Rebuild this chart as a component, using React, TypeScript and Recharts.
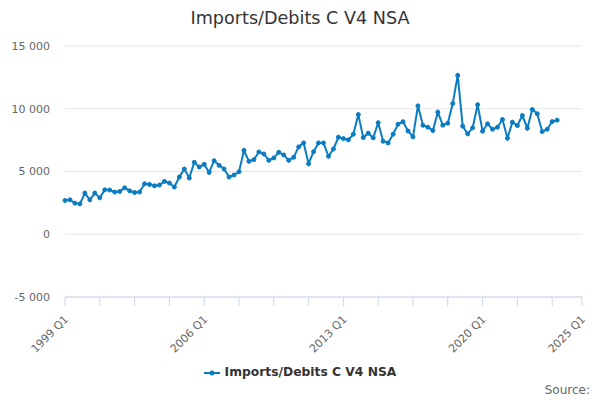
import React from 'react';
import { LineChart, Line, XAxis, YAxis, CartesianGrid } from 'recharts';

const SERIES_NAME = 'Imports/Debits C V4 NSA';
const LINE_COLOR = '#0b7cc1';
const FONT = '"DejaVu Sans", Verdana, sans-serif';

// quarter categories, 1999 Q1 .. 2025 Q1
const quarters: string[] = [];
for (let y = 1999; y <= 2025; y++) {
  for (let q = 1; q <= 4; q++) {
    if (y === 2025 && q > 1) break;
    quarters.push(`${y} Q${q}`);
  }
}

// values, 1999 Q1 .. 2023 Q4
const values = [
  2690, 2740, 2480, 2420, 3280, 2740, 3280, 2900,
  3540, 3520, 3360, 3410, 3700, 3460, 3330, 3360,
  4020, 3970, 3860, 3920, 4210, 4080, 3760, 4560,
  5200, 4480, 5730, 5360, 5570, 4930, 5860, 5490,
  5200, 4560, 4720, 4980, 6680, 5810, 5940, 6560,
  6400, 5890, 6080, 6530, 6320, 5890, 6130, 6960,
  7280, 5620, 6580, 7280, 7280, 6210, 6800, 7730,
  7620, 7520, 7970, 9540, 7700, 8050, 7680, 8880,
  7410, 7280, 7970, 8770, 8970, 8230, 7760, 10230,
  8680, 8530, 8260, 9730, 8690, 8850, 10420, 12660,
  8610, 8000, 8480, 10320, 8210, 8800, 8370, 8530,
  9140, 7650, 8930, 8660, 9460, 8450, 9940, 9600,
  8180, 8370, 8980, 9090,
];

const labelledTicks = ['1999 Q1', '2006 Q1', '2013 Q1', '2020 Q1', '2025 Q1'];
const xTicks = quarters.filter((_, i) => i % 7 === 0 || i === quarters.length - 1);
const yTicks = [-5000, 0, 5000, 10000, 15000];

const data = quarters.map((period, i) => ({
  period,
  value: i < values.length ? values[i] : null,
}));

const fmt = (v: number) => {
  const s = String(Math.abs(v)).replace(/\B(?=(\d{3})+(?!\d))/g, ' ');
  return v < 0 ? '-' + s : s;
};

const QuarterTick = (props: any) => {
  const { x, payload } = props;
  if (!labelledTicks.includes(payload.value)) return null;
  const px = x + 4;
  const py = 320;
  return (
    <text
      x={px}
      y={py}
      transform={`rotate(-45, ${px}, ${py})`}
      textAnchor="end"
      fill="#666666"
      fontSize={11}
      fontFamily={FONT}
    >
      {payload.value}
    </text>
  );
};

export default function App() {
  return (
    <div style={{ position: 'relative', width: 600, height: 400, fontFamily: FONT, background: '#fff' }}>
      <style>{'body{margin:0}'}</style>
      <div
        style={{
          position: 'absolute', top: 9, left: 0, width: 600, textAlign: 'center',
          fontSize: 17.6, lineHeight: '18px', color: '#333333',
        }}
      >
        {SERIES_NAME}
      </div>
      <LineChart width={600} height={400} data={data} margin={{ top: 46, right: 18, left: 0, bottom: 43 }}>
        <CartesianGrid vertical={false} stroke="#e6e6e6" />
        <XAxis
          dataKey="period"
          ticks={xTicks}
          interval={0}
          tickSize={9}
          height={60}
          axisLine={{ stroke: '#ccd6eb' }}
          tickLine={{ stroke: '#ccd6eb' }}
          tick={<QuarterTick />}
        />
        <YAxis
          domain={[-5000, 15000]}
          ticks={yTicks}
          width={65}
          axisLine={false}
          tickLine={false}
          tickSize={0}
          tickMargin={15}
          tickFormatter={fmt}
          tick={{ fill: '#666666', fontSize: 11, fontFamily: FONT }}
        />
        <Line
          type="linear"
          dataKey="value"
          name={SERIES_NAME}
          stroke={LINE_COLOR}
          strokeWidth={2}
          dot={{ r: 2, fill: LINE_COLOR, stroke: LINE_COLOR, strokeWidth: 1 }}
          activeDot={false}
          isAnimationActive={false}
        />
      </LineChart>
      <div
        style={{
          position: 'absolute', top: 366, left: 0, width: 600, display: 'flex',
          justifyContent: 'center', alignItems: 'center',
        }}
      >
        <svg width={16} height={12} style={{ marginRight: 5 }}>
          <line x1={0} y1={6} x2={16} y2={6} stroke={LINE_COLOR} strokeWidth={2} />
          <circle cx={8} cy={6} r={2.5} fill={LINE_COLOR} />
        </svg>
        <span style={{ fontSize: 12.3, lineHeight: '13px', fontWeight: 'bold', color: '#333333' }}>
          {SERIES_NAME}
        </span>
      </div>
      <div
        style={{
          position: 'absolute', top: 384, right: 10, fontSize: 12, lineHeight: '12px', color: '#666666',
        }}
      >
        Source:
      </div>
    </div>
  );
}
